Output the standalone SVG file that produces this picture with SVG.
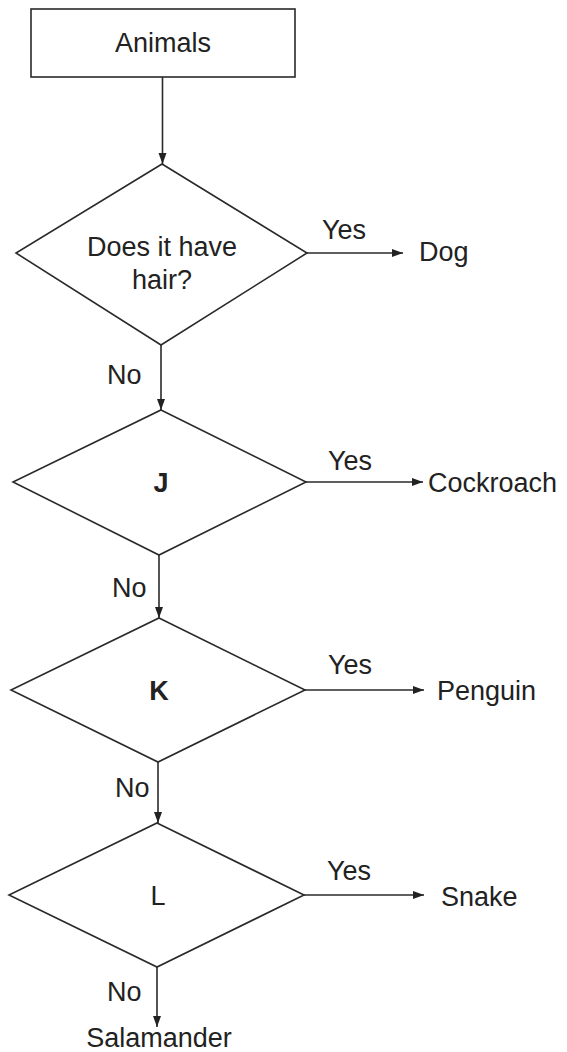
<svg xmlns="http://www.w3.org/2000/svg" width="567" height="1052" viewBox="0 0 567 1052">
<style>
.shape{fill:#fff;stroke:#2a2a2a;stroke-width:1.6}
.line{stroke:#2a2a2a;stroke-width:1.6;fill:none}
text{font-family:"Liberation Sans",Arial,sans-serif;font-size:27px;fill:#222}
.c{text-anchor:middle}
.b{font-weight:bold}
</style>
<defs>
<marker id="ah" markerWidth="12" markerHeight="10" refX="11" refY="5" orient="auto" markerUnits="userSpaceOnUse">
<path d="M0,1 L11,5 L0,9 Z" fill="#222"/>
</marker>
</defs>
<rect width="567" height="1052" fill="#fff"/>
<g id="animals"><rect class="shape" x="31" y="9" width="264" height="68"/><text class="c" x="163" y="52">Animals</text></g>
<g id="q-hair"><polygon class="shape" points="162,164 307,253 161,345 16,253"/><text class="c" x="162" y="256">Does it have</text><text class="c" x="162" y="289">hair?</text></g>
<g id="q-j"><polygon class="shape" points="161,410 306,482 159,555 13,482"/><text class="c b" x="161" y="492">J</text></g>
<g id="q-k"><polygon class="shape" points="159,618 305,690 158,762 11,690"/><text class="c b" x="159" y="700">K</text></g>
<g id="q-l"><polygon class="shape" points="157,823 304,895 157,967 9,895"/><text class="c" x="158" y="905">L</text></g>
<g id="dog"><text x="419" y="261">Dog</text></g>
<g id="cockroach"><text x="428" y="492">Cockroach</text></g>
<g id="penguin"><text x="437" y="700">Penguin</text></g>
<g id="snake"><text x="441" y="906">Snake</text></g>
<g id="salamander"><text class="c" x="159" y="1047">Salamander</text></g>
<g id="connectors">
<line class="line" x1="162.5" y1="77" x2="162.5" y2="164" marker-end="url(#ah)"/>
<line class="line" x1="307" y1="253" x2="403" y2="253" marker-end="url(#ah)"/>
<line class="line" x1="161" y1="345" x2="161" y2="410" marker-end="url(#ah)"/>
<line class="line" x1="306" y1="482" x2="423" y2="482" marker-end="url(#ah)"/>
<line class="line" x1="159" y1="555" x2="159" y2="618" marker-end="url(#ah)"/>
<line class="line" x1="305" y1="690" x2="424" y2="690" marker-end="url(#ah)"/>
<line class="line" x1="158" y1="762" x2="158" y2="823" marker-end="url(#ah)"/>
<line class="line" x1="304" y1="895" x2="424" y2="895" marker-end="url(#ah)"/>
<line class="line" x1="157" y1="967" x2="157" y2="1027" marker-end="url(#ah)"/>
<text x="322" y="239">Yes</text>
<text x="107" y="384">No</text>
<text x="328" y="470">Yes</text>
<text x="112" y="597">No</text>
<text x="328" y="674">Yes</text>
<text x="115" y="797">No</text>
<text x="327" y="880">Yes</text>
<text x="107" y="1001">No</text>
</g>
</svg>
